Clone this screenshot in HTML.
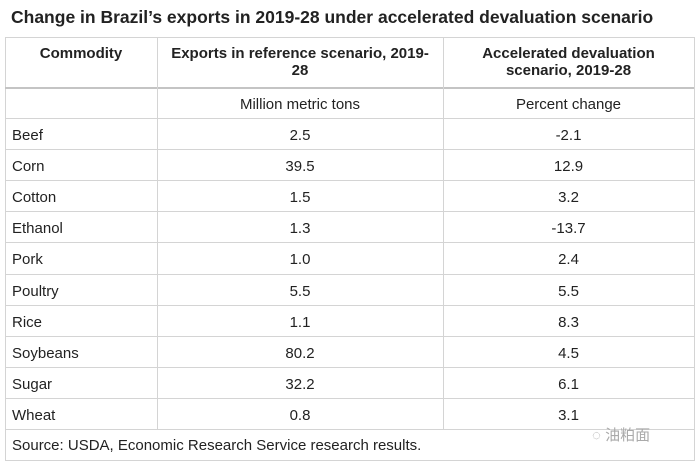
<!DOCTYPE html>
<html><head><meta charset="utf-8"><style>
body{margin:0;width:700px;height:466px;background:#fff;font-family:"Liberation Sans","Noto Sans CJK SC",sans-serif;color:#222;position:relative;overflow:hidden}
.t{position:absolute;left:11px;top:7px;font-size:17.5px;font-weight:bold;color:#222;white-space:nowrap}
.b{position:absolute;background:#d4d4d4}
.c{position:absolute;font-size:15px;white-space:nowrap;line-height:17px}
.ctr{text-align:center}
</style></head><body>
<div class="t">Change in Brazil’s exports in 2019-28 under accelerated devaluation scenario</div>
<div id="tbl"></div>
<div class="c" style="left:592px;top:427px;color:#aaa;font-size:15px">◌ 油粕面</div>
<script>
const commodities=["Beef","Corn","Cotton","Ethanol","Pork","Poultry","Rice","Soybeans","Sugar","Wheat"];
const exportsRef=["2.5","39.5","1.5","1.3","1.0","5.5","1.1","80.2","32.2","0.8"];
const pctChange=["-2.1","12.9","3.2","-13.7","2.4","5.5","8.3","4.5","6.1","3.1"];
const T=document.getElementById('tbl');
function line(x,y,w,h,c){const d=document.createElement('div');d.className='b';d.style.cssText=`left:${x}px;top:${y}px;width:${w}px;height:${h}px;`+(c?`background:${c}`:'');


T.appendChild(d);}
function txt(s,x,y,w,bold,name){const d=document.createElement('div');d.className='c'+(w?' ctr':'');d.style.cssText=`left:${x}px;top:${y}px;`+(w?`width:${w}px;`:'')+(bold?'font-weight:bold;':'');d.innerHTML=s;


T.appendChild(d);}
const L=5,R=694,X1=157,X2=443,TOP=37,H1=87,H2=118,RH=31.1;
const bottomRows=H2+RH*commodities.length, BOT=460;
line(L,TOP,R-L,1);line(L,TOP,1,BOT-TOP);line(R,TOP,1,BOT-TOP+1);line(L,BOT,R-L+1,1);
line(L,H1,R-L,2,'#c4c4c4');line(L,H2,R-L,1);
line(X1,TOP,1,bottomRows-TOP);line(X2,TOP,1,bottomRows-TOP);
txt('Commodity',L,45,X1-L,true,'header-commodity');
txt('Exports in reference scenario, 2019-<br>28',X1,45,X2-X1,true,'header-exports');
txt('Accelerated devaluation<br>scenario, 2019-28',X2,45,R-X2,true,'header-percent');
txt('Million metric tons',X1,96,X2-X1,false,'unit-exports');
txt('Percent change',X2,96,R-X2,false,'unit-percent');
commodities.forEach((c,i)=>{
 const y=H2+RH*i;
 line(L,Math.round(y+RH),R-L,1);
 txt(c,12,Math.round(y+9),0,false,'row-label');
 txt(exportsRef[i],X1,Math.round(y+9),X2-X1,false,'exports-value');
 txt(pctChange[i],X2,Math.round(y+9),R-X2,false,'percent-value');
});
txt('Source: USDA, Economic Research Service research results.',12,437,0,false,'source-note');
</script>
</body></html>
